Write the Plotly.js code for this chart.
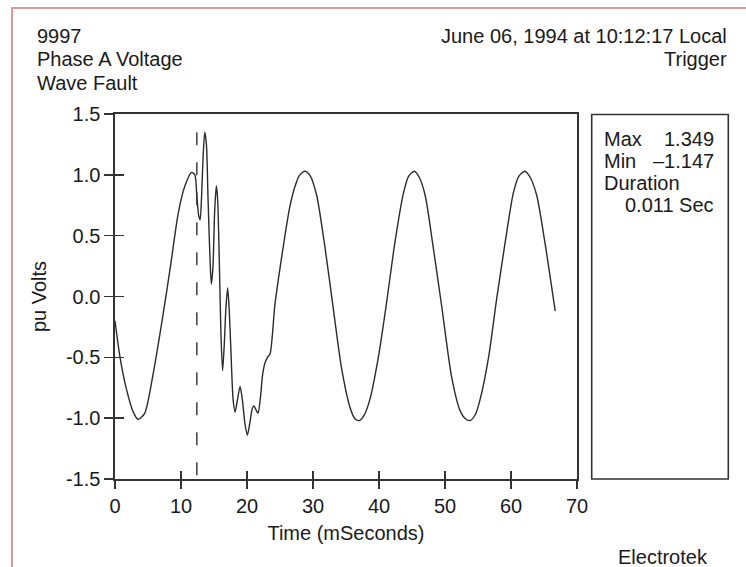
<!DOCTYPE html>
<html>
<head>
<meta charset="utf-8">
<script src="https://cdn.plot.ly/plotly-3.0.1.min.js"></script>
<style>
  html, body { margin: 0; padding: 0; background: #ffffff; }
  #chart { width: 746px; height: 567px; }
</style>
</head>
<body>
<div id="chart"></div>
<script>
// ---- data ----
const timeMs = [0, 0.76, 1.77, 2.77, 3.5, 4.5, 5.8, 7.07, 8.33, 9.6, 10.6, 11.6, 12.1,
  12.4, 12.7, 12.9, 13.1, 13.35, 13.6, 13.85, 14.1, 14.4, 14.6, 14.85, 15.1, 15.35, 15.55,
  15.8, 16.05, 16.3, 16.55, 16.8, 17.07, 17.3, 17.6, 17.9, 18.2, 18.55, 18.95, 19.3, 19.7,
  20.05, 20.4, 20.8, 21.06, 21.35, 21.67, 22.0, 22.35, 22.7, 23.1, 23.5, 24.2, 24.75, 25.75,
  26.5, 27.3, 28.0, 28.8, 29.6, 30.56, 31.8, 33.1, 34.3, 35.6, 36.3, 37.0, 37.8, 38.6, 39.9,
  41.2, 42.4, 43.7, 44.5, 45.35, 46.1, 47.0, 48.2, 49.5, 51.0, 52.3, 53.0, 53.8, 54.6, 55.3,
  56.6, 57.8, 59.1, 60.35, 61.2, 62.1, 62.9, 63.9, 65.15, 66.7];
const puVolts = [-0.20, -0.50, -0.77, -0.95, -1.01, -0.96, -0.63, -0.22, 0.22, 0.69, 0.91, 1.02, 1.00,
  0.82, 0.66, 0.63, 0.80, 1.15, 1.35, 1.25, 0.80, 0.30, 0.10, 0.25, 0.70, 0.91, 0.80,
  0.30, -0.30, -0.61, -0.40, -0.10, 0.07, -0.10, -0.50, -0.85, -0.95, -0.85, -0.74, -0.85, -1.05,
  -1.14, -1.05, -0.92, -0.90, -0.93, -0.96, -0.85, -0.65, -0.55, -0.50, -0.47, -0.08, 0.14, 0.50,
  0.74, 0.91, 1.00, 1.03, 0.99, 0.83, 0.41, -0.11, -0.58, -0.91, -1.00, -1.02, -0.97, -0.85, -0.50,
  -0.03, 0.44, 0.85, 0.99, 1.03, 0.98, 0.83, 0.41, -0.08, -0.66, -0.94, -1.00, -1.02, -0.97, -0.85,
  -0.50, -0.03, 0.44, 0.85, 0.99, 1.03, 0.98, 0.83, 0.44, -0.12];

const triggerT = [12.4, 12.4];
const triggerV = [1.35, -1.5];

const xTickVals = [0, 10, 20, 30, 40, 50, 60, 70];
const xTickText = ['0', '10', '20', '30', '40', '50', '60', '70'];
const yTickVals = [1.5, 1.0, 0.5, 0.0, -0.5, -1.0, -1.5];
const yTickText = ['1.5', '1.0', '0.5', '0.0', '-0.5', '-1.0', '-1.5'];

const headerLeft = ['9997', 'Phase A Voltage', 'Wave Fault'];
const headerRight = ['June 06, 1994 at 10:12:17 Local', 'Trigger'];
const statLabels = ['Max', 'Min', 'Duration'];
const statValues = ['1.349', '\u20131.147', '0.011 Sec'];
const footer = 'Electrotek';

// ---- layout helpers (pixel -> paper) ----
const W = 746, H = 567;
const M = {l: 115, r: 169, t: 114, b: 88};
const PW = W - M.l - M.r, PH = H - M.t - M.b;
const px = x => (x - M.l) / PW;
const py = y => (H - M.b - y) / PH;

const FONT = 'Liberation Sans, Arial, sans-serif';
const TXT = '#1a1a1a';
const LINE = '#333333';
const FS = 20;

const traces = [
  {
    x: timeMs, y: puVolts, type: 'scatter', mode: 'lines',
    line: {color: '#2b2b2b', width: 1.4, shape: 'spline', smoothing: 0.7},
    hoverinfo: 'skip'
  },
  {
    x: triggerT, y: triggerV, type: 'scatter', mode: 'lines',
    xaxis: 'x2', yaxis: 'y2',
    line: {color: '#333333', width: 1.4, dash: '13px,17px'},
    hoverinfo: 'skip'
  }
];

const annotations = [];
headerLeft.forEach((t, i) => annotations.push({
  text: t, xref: 'paper', yref: 'paper', x: px(35), y: py(36 + i * 23.5),
  xanchor: 'left', yanchor: 'middle', showarrow: false,
  font: {family: FONT, size: FS, color: TXT}
}));
headerRight.forEach((t, i) => annotations.push({
  text: t, xref: 'paper', yref: 'paper', x: px(729), y: py(36 + i * 23.5),
  xanchor: 'right', yanchor: 'middle', showarrow: false,
  font: {family: FONT, size: FS, color: TXT}
}));
statLabels.forEach((t, i) => annotations.push({
  text: t, xref: 'paper', yref: 'paper', x: px(602), y: py(138.5 + i * 22.2),
  xanchor: 'left', yanchor: 'middle', showarrow: false,
  font: {family: FONT, size: FS, color: TXT}
}));
statValues.forEach((t, i) => annotations.push({
  text: t, xref: 'paper', yref: 'paper', x: px(716), y: py(138.5 + (i === 2 ? 3 : i) * 22.2),
  xanchor: 'right', yanchor: 'middle', showarrow: false,
  font: {family: FONT, size: FS, color: TXT}
}));
annotations.push({
  text: footer, xref: 'paper', yref: 'paper', x: px(663), y: py(557),
  xanchor: 'center', yanchor: 'middle', showarrow: false,
  font: {family: FONT, size: FS, color: TXT}
});

const axisCommon = {
  showgrid: false, zeroline: false, fixedrange: true
};

const layout = {
  width: W, height: H,
  margin: M,
  paper_bgcolor: '#ffffff', plot_bgcolor: '#ffffff',
  showlegend: false,
  font: {family: FONT, size: FS, color: TXT},
  xaxis: Object.assign({}, axisCommon, {
    range: [0, 70], tickvals: xTickVals, ticktext: xTickText,
    showline: true, mirror: true, linecolor: LINE, linewidth: 1.6,
    ticks: 'outside', ticklen: 8, tickwidth: 1.4, tickcolor: LINE,
    tickfont: {family: FONT, size: FS, color: TXT},
    title: {text: 'Time (mSeconds)', font: {family: FONT, size: FS, color: TXT}, standoff: 10}
  }),
  yaxis: Object.assign({}, axisCommon, {
    range: [-1.5, 1.5], tickvals: yTickVals, ticktext: yTickText,
    showline: true, mirror: true, linecolor: LINE, linewidth: 1.6,
    ticks: 'outside', ticklen: 9, tickwidth: 1.4, tickcolor: LINE,
    tickfont: {family: FONT, size: FS, color: TXT},
    title: {text: 'pu Volts', font: {family: FONT, size: FS, color: TXT}, standoff: 14}
  }),
  xaxis2: Object.assign({}, axisCommon, {
    range: [0, 70], overlaying: 'x', anchor: 'y', side: 'bottom',
    tickvals: xTickVals, showticklabels: false, showline: false,
    ticks: 'inside', ticklen: 8, tickwidth: 1.4, tickcolor: LINE
  }),
  yaxis2: Object.assign({}, axisCommon, {
    range: [-1.5, 1.5], overlaying: 'y', anchor: 'x', side: 'left',
    tickvals: yTickVals, showticklabels: false, showline: false,
    ticks: 'inside', ticklen: 9, tickwidth: 1.4, tickcolor: LINE
  }),
  shapes: [
    {type: 'rect', xref: 'paper', yref: 'paper',
     x0: px(591.7), x1: px(728.3), y0: py(479), y1: py(114.5),
     line: {color: LINE, width: 1.6}, fillcolor: 'rgba(0,0,0,0)'},
    {type: 'rect', xref: 'paper', yref: 'paper',
     x0: px(12), x1: px(800), y0: py(620), y1: py(8),
     line: {color: '#d99a9a', width: 2}, fillcolor: 'rgba(0,0,0,0)', layer: 'below'}
  ],
  annotations: annotations
};

Plotly.newPlot('chart', traces, layout, {staticPlot: true, displayModeBar: false});
</script>
</body>
</html>
